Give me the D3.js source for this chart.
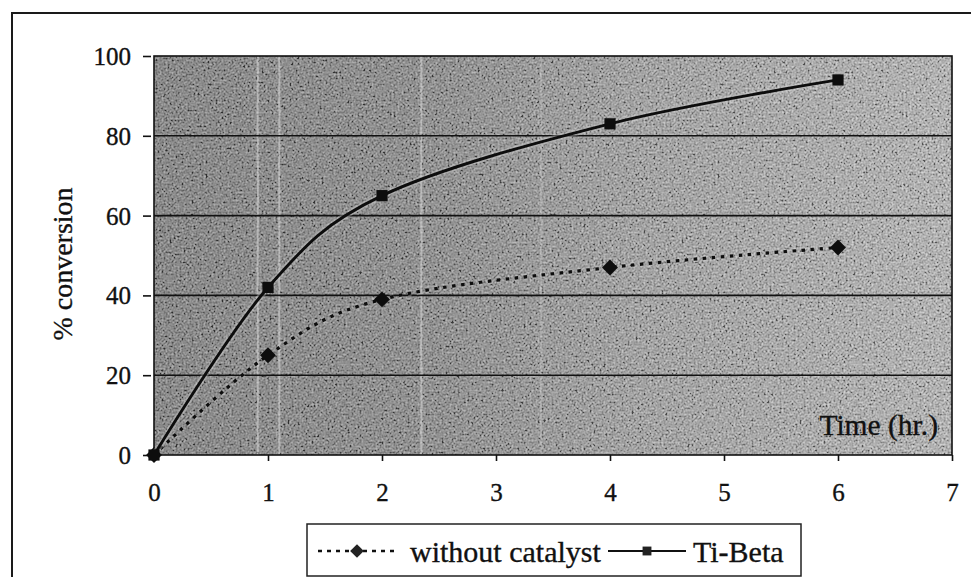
<!DOCTYPE html>
<html>
<head>
<meta charset="utf-8">
<script src="https://cdn.jsdelivr.net/npm/d3@7/dist/d3.min.js"></script>
<style>
  html, body { margin: 0; padding: 0; background: #fff; }
  svg { display: block; }
  text { font-family: "Liberation Serif", "Times New Roman", serif; fill: #111; stroke: #111; stroke-width: 0.35px; }
</style>
</head>
<body>
<svg id="chart" width="971" height="577"></svg>
<script>
// Reaction time (hr.) and % conversion for each run
const timeHours = [0, 1, 2, 4, 6];
const withoutCatalyst = [0, 25, 39, 47, 52];
const tiBeta = [0, 42, 65, 83, 94];

const xTicks = [0, 1, 2, 3, 4, 5, 6, 7];
const yTicks = [0, 20, 40, 60, 80, 100];
const seriesNames = ["without catalyst", "Ti-Beta"];
const xTitle = "Time (hr.)";
const yTitle = "% conversion";

const W = 971, H = 577;
const plot = { left: 154, right: 952, top: 56, bottom: 455 };
const serif = '"Liberation Serif", "Times New Roman", serif';

const svg = d3.select("#chart");
const defs = svg.append("defs");

// Grey fill of the plot area, darker on the left
const grad = defs.append("linearGradient").attr("id", "bgGrad")
  .attr("x1", "0").attr("x2", "1").attr("y1", "0").attr("y2", "0");
[["0", "#5a5a5a"], ["0.35", "#6a6a6a"], ["0.6", "#8c8c8c"], ["1", "#acacac"]]
  .forEach(([o, c]) => grad.append("stop").attr("offset", o).attr("stop-color", c));

// Printed halftone grain
const grain = defs.append("filter").attr("id", "grain")
  .attr("x", 0).attr("y", 0).attr("width", "100%").attr("height", "100%");
grain.append("feTurbulence").attr("type", "fractalNoise")
  .attr("baseFrequency", "0.5").attr("numOctaves", 2).attr("seed", 7).attr("result", "noise");
grain.append("feColorMatrix").attr("type", "matrix")
  .attr("values", "0.33 0.33 0.33 0 0  0.33 0.33 0.33 0 0  0.33 0.33 0.33 0 0  0 0 0 0 1");
const ct = grain.append("feComponentTransfer");
["feFuncR", "feFuncG", "feFuncB"].forEach(f =>
  ct.append(f).attr("type", "linear").attr("slope", 3.2).attr("intercept", -1.1));

// Outer frame of the figure
svg.append("path")
  .attr("d", `M12,${H} L12,13 L${W},13`)
  .attr("fill", "none").attr("stroke", "#1a1a1a").attr("stroke-width", 2);

const x = d3.scaleLinear().domain([0, 7]).range([plot.left, plot.right]);
const y = d3.scaleLinear().domain([0, 100]).range([plot.bottom, plot.top]);

const pw = plot.right - plot.left, ph = plot.bottom - plot.top;

// Plot background
svg.append("rect")
  .attr("x", plot.left).attr("y", plot.top).attr("width", pw).attr("height", ph)
  .attr("fill", "url(#bgGrad)");
svg.append("rect")
  .attr("x", plot.left).attr("y", plot.top).attr("width", pw).attr("height", ph)
  .attr("filter", "url(#grain)").attr("opacity", 0.5);

// Faint light streaks in the background
const streaks = [0.13, 0.157, 0.335, 0.485];
svg.append("g").selectAll("line").data(streaks).join("line")
  .attr("x1", d => plot.left + d * pw).attr("x2", d => plot.left + d * pw)
  .attr("y1", plot.top).attr("y2", plot.bottom)
  .attr("stroke", "#e0e0e0").attr("stroke-width", 2).attr("opacity", (d, i) => i === 3 ? 0.25 : 0.5);

// Horizontal gridlines
svg.append("g").selectAll("line").data(yTicks.filter(v => v > 0 && v < 100)).join("line")
  .attr("x1", plot.left).attr("x2", plot.right)
  .attr("y1", d => y(d)).attr("y2", d => y(d))
  .attr("stroke", "#111").attr("stroke-width", 1.6);

// Plot border
svg.append("rect")
  .attr("x", plot.left).attr("y", plot.top).attr("width", pw).attr("height", ph)
  .attr("fill", "none").attr("stroke", "#111").attr("stroke-width", 1.6);

// Axes
const xAxis = svg.append("g").attr("transform", `translate(0,${plot.bottom})`)
  .call(d3.axisBottom(x).tickValues(xTicks).tickFormat(d3.format("d"))
    .tickSize(6).tickSizeOuter(0).tickPadding(22));
const yAxis = svg.append("g").attr("transform", `translate(${plot.left - 3},0)`)
  .call(d3.axisLeft(y).tickValues(yTicks).tickFormat(d3.format("d"))
    .tickSize(8).tickSizeOuter(0).tickPadding(12));
[xAxis, yAxis].forEach(g => {
  g.attr("font-family", serif);
  g.select(".domain").remove();
  g.selectAll(".tick line").attr("stroke", "#111").attr("stroke-width", 1.6);
  g.selectAll(".tick text")
    .style("font-family", serif)
    .style("font-size", "25px").attr("fill", "#111");
});
yAxis.selectAll(".tick text").attr("dy", "0.34em");

// Axis titles
svg.append("text")
  .attr("transform", `translate(72,264) rotate(-90)`)
  .attr("text-anchor", "middle")
  .style("font-family", serif)
  .style("font-size", "28px")
  .text(yTitle);
svg.append("text")
  .attr("x", 938).attr("y", 435)
  .attr("text-anchor", "end")
  .style("font-family", serif)
  .style("font-size", "29.5px")
  .text(xTitle);

// Series
const series = [
  { name: seriesNames[0], values: withoutCatalyst, dash: "3.5 5.5", marker: "diamond" },
  { name: seriesNames[1], values: tiBeta, dash: null, marker: "square" }
];

// Smoothed lines through the measured points (uniform Catmull–Rom)
const line = d3.line()
  .x(d => x(d[0])).y(d => y(d[1]))
  .curve(d3.curveCatmullRom.alpha(0));

const diamond = d3.symbol().type(d3.symbolDiamond2).size(160);
const square = d3.symbol().type(d3.symbolSquare2).size(160);

series.forEach(s => {
  const pts = timeHours.map((t, i) => [t, s.values[i]]);
  // soft light halo under each curve
  svg.append("path").datum(pts)
    .attr("d", line).attr("fill", "none")
    .attr("stroke", "#d8d8d8").attr("stroke-width", 6.5).attr("opacity", 0.35)
    .attr("stroke-dasharray", s.dash);
  svg.append("path").datum(pts)
    .attr("d", line).attr("fill", "none")
    .attr("stroke", "#0d0d0d").attr("stroke-width", s.dash ? 3.2 : 2.9)
    .attr("stroke-dasharray", s.dash);
  svg.append("g").selectAll("path").data(pts).join("path")
    .attr("transform", d => `translate(${x(d[0])},${y(d[1])})`)
    .attr("d", s.marker === "diamond" ? diamond : square)
    .attr("fill", "#0d0d0d");
});

// Legend
const lg = svg.append("g");
lg.append("rect")
  .attr("x", 307).attr("y", 524).attr("width", 494).attr("height", 52)
  .attr("fill", "#fff").attr("stroke", "#222").attr("stroke-width", 1.5);

const legendItems = [
  { s: series[0], x0: 318, x1: 396, tx: 410 },
  { s: series[1], x0: 608, x1: 686, tx: 693 }
];
legendItems.forEach(it => {
  const cy = 551;
  lg.append("line")
    .attr("x1", it.x0).attr("x2", it.x1).attr("y1", cy).attr("y2", cy)
    .attr("stroke", "#111").attr("stroke-width", it.s.dash ? 2.6 : 2.2)
    .attr("stroke-dasharray", it.s.dash ? "4 5" : null);
  lg.append("path")
    .attr("transform", `translate(${(it.x0 + it.x1) / 2},${cy})`)
    .attr("d", it.s.marker === "diamond"
      ? d3.symbol().type(d3.symbolDiamond2).size(120)()
      : d3.symbol().type(d3.symbolSquare2).size(100)())
    .attr("fill", "#222");
  lg.append("text")
    .attr("x", it.tx).attr("y", 562)
    .style("font-family", serif)
    .style("font-size", "30px")
    .text(it.s.name);
});
</script>
</body>
</html>
